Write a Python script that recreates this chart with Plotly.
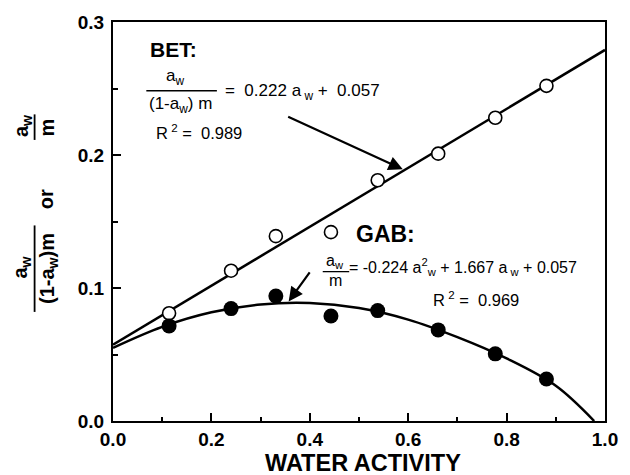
import plotly.graph_objects as go

# ---------------- data ----------------
water_activity = [0.114, 0.240, 0.331, 0.443, 0.538, 0.661, 0.777, 0.881]
bet_values = [0.081, 0.113, 0.139, 0.142, 0.181, 0.201, 0.228, 0.252]
gab_values = [0.0715, 0.0845, 0.094, 0.079, 0.083, 0.0685, 0.0505, 0.0316]

bet_line_x = [0.0, 1.0]
bet_line_y = [0.0574, 0.279]

gab_curve_x = [0.0, 0.1, 0.2, 0.3, 0.4, 0.5, 0.6, 0.7, 0.8, 0.9, 0.978]
gab_curve_y = [0.055, 0.0708, 0.0817, 0.0876, 0.0887, 0.0849, 0.0762, 0.0630, 0.0470, 0.0265, 0.0]

x_ticks = [0.0, 0.2, 0.4, 0.6, 0.8, 1.0]
y_ticks = [0.0, 0.1, 0.2, 0.3]

# ---------------- layout geometry ----------------
W, H = 630, 475
L, R, T, B = 113, 15, 15, 54
FONT = "Liberation Sans, Arial, Helvetica, sans-serif"


def pxx(x):
    return (x - L) / (W - L - R)


def pxy(y):
    return (H - B - y) / (H - T - B)


fig = go.Figure()

fig.add_trace(go.Scatter(x=bet_line_x, y=bet_line_y, mode="lines",
                         line=dict(color="black", width=2.5), hoverinfo="skip"))
fig.add_trace(go.Scatter(x=gab_curve_x, y=gab_curve_y, mode="lines",
                         line=dict(color="black", width=2.5, shape="spline"),
                         hoverinfo="skip"))
fig.add_trace(go.Scatter(x=water_activity, y=bet_values, mode="markers",
                         marker=dict(symbol="circle", size=13, color="white",
                                     line=dict(color="black", width=1.6))))
fig.add_trace(go.Scatter(x=water_activity, y=gab_values, mode="markers",
                         marker=dict(symbol="circle", size=15, color="black",
                                     line=dict(color="black", width=0))))

annotations = []
shapes = []


def text(px, py, s, size=15, bold=False, xanchor="left", angle=0):
    annotations.append(dict(
        xref="paper", yref="paper", x=pxx(px), y=pxy(py), text=s,
        showarrow=False, xanchor=xanchor, yanchor="middle", textangle=angle,
        font=dict(family=FONT, size=size, color="black",
                  weight="bold" if bold else "normal")))


def hbar(x0, x1, y, w=1.5):
    shapes.append(dict(type="line", xref="paper", yref="paper",
                       x0=pxx(x0), x1=pxx(x1), y0=pxy(y), y1=pxy(y),
                       line=dict(color="black", width=w)))


def vbar(x, y0, y1, w=1.8):
    shapes.append(dict(type="line", xref="paper", yref="paper",
                       x0=pxx(x), x1=pxx(x), y0=pxy(y0), y1=pxy(y1),
                       line=dict(color="black", width=w)))


# BET block
text(149, 43, "BET:", size=21, bold=True)
text(176, 71, "a<sub>w</sub>", size=17, xanchor="center")
hbar(147, 219, 85)
text(182, 99, "(1-a<sub>w</sub>) m", size=17, xanchor="center")
text(225, 86, "=  0.222 a<sub> w</sub> +  0.057", size=17)
text(155, 127, "R<sup> 2</sup> =  0.989", size=16.5)

# GAB block
text(359, 231, "GAB:", size=23, bold=True)
text(340, 259, "a<sub>w</sub>", size=16, xanchor="center")
hbar(327, 354, 269, 1.3)
text(340, 278, "m", size=16, xanchor="center")
text(352, 264, "= -0.224 a<sup>2</sup><sub>w</sub> + 1.667 a<sub> w</sub> + 0.057", size=16)
text(437, 297, "R<sup> 2</sup> =  0.969", size=16.5)

# arrows
annotations.append(dict(xref="x", yref="y", axref="x", ayref="y",
                        x=0.589, y=0.1892, ax=0.353, ay=0.2293, text="",
                        showarrow=True, arrowhead=2, arrowsize=1.3,
                        arrowwidth=2.2, arrowcolor="black"))
annotations.append(dict(xref="x", yref="y", axref="x", ayref="y",
                        x=0.357, y=0.0899, ax=0.402, ay=0.1129, text="",
                        showarrow=True, arrowhead=2, arrowsize=1.3,
                        arrowwidth=2.2, arrowcolor="black"))

# y-axis title (rotated fractions)
text(20, 265, "a<sub>w</sub>", size=20, bold=True, xanchor="center", angle=-90)
vbar(33, 222, 310)
text(47, 266, "(1-a<sub>w</sub>)m", size=20, bold=True, xanchor="center", angle=-90)
text(45, 195, "or", size=20, bold=True, xanchor="center", angle=-90)
text(20, 121, "a<sub>w</sub>", size=20, bold=True, xanchor="center", angle=-90)
vbar(33, 109, 135)
text(46, 122, "m", size=20, bold=True, xanchor="center", angle=-90)

# x-axis title
text(368, 464, "WATER ACTIVITY", size=23.5, bold=True, xanchor="center")

axis_common = dict(showline=True, linecolor="black", linewidth=2, mirror=True,
                   showgrid=False, zeroline=False, ticks="inside",
                   tickcolor="black", tickwidth=2, ticklen=8,
                   tickformat=".1f", ticklabeloverflow="allow",
                   tickfont=dict(family=FONT, size=19, color="black", weight="bold"))

fig.update_layout(
    width=W, height=H,
    margin=dict(l=L, r=R, t=T, b=B),
    paper_bgcolor="white", plot_bgcolor="white",
    showlegend=False,
    xaxis=dict(range=[0, 1], tickvals=x_ticks,
               minor=dict(dtick=0.1, ticks="inside", ticklen=4, tickwidth=2,
                          tickcolor="black"),
               **axis_common),
    yaxis=dict(range=[0, 0.3], tickvals=y_ticks, ticklabelstandoff=3,
               minor=dict(dtick=0.05, ticks="inside", ticklen=5, tickwidth=2,
                          tickcolor="black"),
               **axis_common),
    annotations=annotations,
    shapes=shapes,
)

fig.write_html("out.html")
